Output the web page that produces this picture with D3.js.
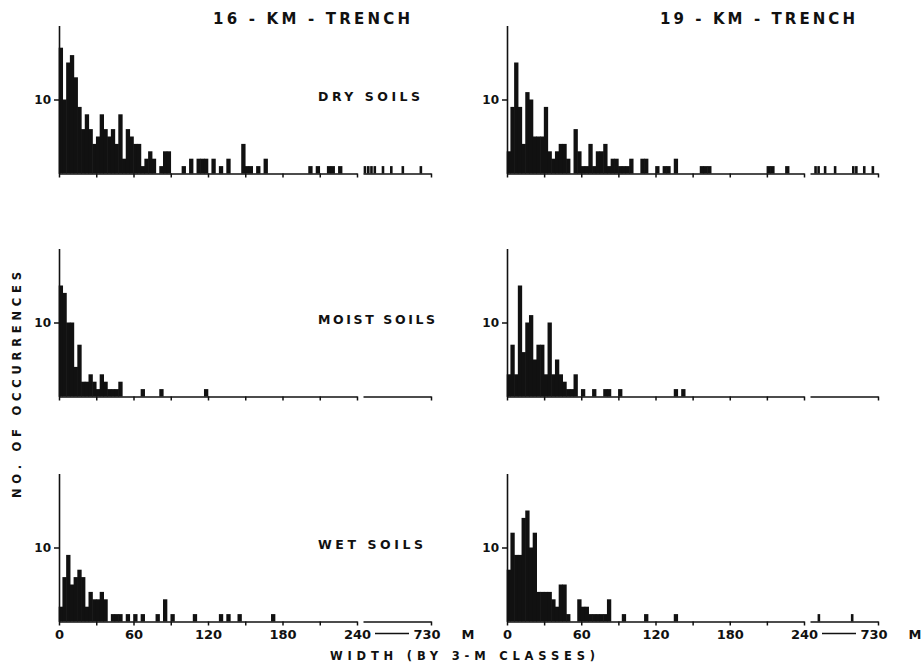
<!DOCTYPE html>
<html>
<head>
<meta charset="utf-8">
<script src="https://cdn.jsdelivr.net/npm/d3@7"></script>
<style>
  body { margin: 0; background: #fff; }
  svg { display: block; }
  text { font-family: "DejaVu Sans", sans-serif; font-weight: bold; fill: #111; }
</style>
</head>
<body>
<div class="container"></div>
<script>
// counts per 3-m width class, starting at 0 m
const classSize = 3;
const dry16 = [17,10,15,16,13,9,6,8,6,4, 5,8,6,5,6,4,8,2,6,5, 4,4,1,2,3,2,0,1,3,3,
  0,0,0,1,0,2,0,2,2,2, 0,2,0,1,0,2,0,0,0,4, 1,1,0,1,0,2,0,0,0,0, 0,0,0,0,0,0,0,1,0,1, 0,0,1,1,0,1];
const dry19 = [3,9,15,9,4,11,10,5,5,5, 9,3,2,3,4,4,2,0,6,3, 1,1,4,1,3,3,4,1,2,2,
  1,1,1,2,0,0,2,2,0,0, 1,0,1,1,0,2,0,0,0,0, 0,0,1,1,1,0,0,0,0,0, 0,0,0,0,0,0,0,0,0,0, 1,1,0,0,0,1];
const moist16 = [15,14,10,10,4,7,2,2,3,2, 1,3,2,1,1,1,2,0,0,0, 0,0,1,0,0,0,0,1,0,0,
  0,0,0,0,0,0,0,0,0,1];
const moist19 = [3,7,3,15,6,10,11,5,7,7, 3,10,3,5,3,2,1,1,3,0, 1,0,0,1,0,0,1,1,0,0,
  1,0,0,0,0,0,0,0,0,0, 0,0,0,0,0,1,0,1];
const wet16 = [2,6,9,5,6,7,6,2,4,3, 3,4,3,0,1,1,1,0,1,0, 1,0,1,0,0,0,1,0,3,0,
  1,0,0,0,0,0,1,0,0,0, 0,0,0,1,0,1,0,0,1,0, 0,0,0,0,0,0,0,1];
const wet19 = [7,12,9,9,14,15,10,12,4,4, 4,4,3,2,5,5,1,0,0,3, 2,2,1,1,1,1,1,3,0,0,
  0,1,0,0,0,0,0,1,0,0, 0,0,0,0,0,1];

// single occurrences in the compressed 240-730 m section (width in m)
const dry16Tail = [254, 278, 301, 325, 384, 444, 527, 657];
const dry19Tail = [280, 302, 349, 421, 552, 574, 631, 693];
const moist16Tail = [];
const moist19Tail = [];
const wet16Tail = [];
const wet19Tail = [304, 544];

const xTicks = [0, 30, 60, 90, 120, 150, 180, 210, 240];
const xLabels = [0, 60, 120, 180, 240];
const yTicks = [10];
const trenches = ["16 - KM - TRENCH", "19 - KM - TRENCH"];
const soils = ["DRY  SOILS", "MOIST  SOILS", "WET  SOILS"];

const width = 923, height = 663;
const colX = [59, 507];        // x of 0 m
const colW = [298, 297];       // 0..240 m
const rowBase = [173.5, 396.5, 621.5];
const panelH = 148;
const ink = "#111";

const panels = [
  { counts: dry16, tail: dry16Tail, col: 0, row: 0 },
  { counts: dry19, tail: dry19Tail, col: 1, row: 0 },
  { counts: moist16, tail: moist16Tail, col: 0, row: 1 },
  { counts: moist19, tail: moist19Tail, col: 1, row: 1 },
  { counts: wet16, tail: wet16Tail, col: 0, row: 2 },
  { counts: wet19, tail: wet19Tail, col: 1, row: 2 }
];

const svg = d3.select(".container").append("svg")
  .attr("width", width)
  .attr("height", height);

panels.forEach(p => {
  const x0 = colX[p.col], base = rowBase[p.row];
  const x = d3.scaleLinear().domain([0, 240]).range([x0, x0 + colW[p.col]]);
  const xt = d3.scaleLinear().domain([240, 730]).range([x(240) + 6, x(240) + 74]);
  const y = d3.scaleLinear().domain([0, 20]).range([base, base - panelH]);
  const bottom = p.row === 2;

  const g = svg.append("g");

  // bars (slight overlap so neighbouring classes print as one solid mass)
  const bw = x(classSize) - x(0);
  g.append("g").selectAll("rect")
    .data(p.counts.map((c, i) => ({ c, i })).filter(d => d.c > 0))
    .join("rect")
    .attr("x", d => x(d.i * classSize) - 0.3)
    .attr("width", bw + 0.6)
    .attr("y", d => y(d.c))
    .attr("height", d => y(0) - y(d.c))
    .attr("fill", ink);

  g.append("g").selectAll("rect")
    .data(p.tail)
    .join("rect")
    .attr("x", d => xt(d) - 1.3)
    .attr("width", 2.6)
    .attr("y", y(1))
    .attr("height", y(0) - y(1))
    .attr("fill", ink);

  // x axis, main part
  const ax = g.append("g")
    .attr("transform", `translate(0,${base})`)
    .call(d3.axisBottom(x).tickValues(xTicks).tickSize(4).tickSizeOuter(0)
      .tickPadding(4)
      .tickFormat(d => bottom && xLabels.includes(d) ? d : ""));

  // x axis, compressed part
  const axt = g.append("g")
    .attr("transform", `translate(0,${base})`)
    .call(d3.axisBottom(xt).tickValues([730]).tickSize(4).tickSizeOuter(0).tickFormat(""));

  // y axis
  const ay = g.append("g")
    .attr("transform", `translate(${x0},0)`)
    .call(d3.axisLeft(y).tickValues(yTicks).tickSize(5).tickSizeOuter(0).tickPadding(3));

  [ax, axt, ay].forEach(a => {
    a.selectAll("path.domain").attr("stroke", ink).attr("stroke-width", 1.6);
    a.selectAll(".tick line").attr("stroke", ink).attr("stroke-width", 1.5);
    a.selectAll("text").attr("font-size", 13).attr("font-family", null).style("fill", ink);
  });
  ay.selectAll("text").attr("font-size", 12);

  if (bottom) {
    const ly = base + 17;
    g.append("line")
      .attr("x1", x(240) + 18).attr("x2", xt(730) - 22)
      .attr("y1", ly - 5).attr("y2", ly - 5)
      .attr("stroke", ink).attr("stroke-width", 1.5);
    g.append("text")
      .attr("x", xt(730) - 4).attr("y", ly)
      .attr("text-anchor", "middle")
      .attr("font-size", 13)
      .text("730");
    g.append("text")
      .attr("x", xt(730) + 37).attr("y", ly)
      .attr("text-anchor", "middle")
      .attr("font-size", 13)
      .text("M");
  }

  if (p.col === 0) {
    const lens = [102, 117, 105];
    svg.append("text")
      .attr("x", 318).attr("y", base - 73)
      .attr("font-size", 12.5)
      .attr("textLength", lens[p.row])
      .attr("lengthAdjust", "spacing")
      .text(soils[p.row]);
  }
});

// column titles
const titleX = [213, 660], titleLen = [197, 195];
trenches.forEach((t, i) => {
  svg.append("text")
    .attr("x", titleX[i]).attr("y", 23.5)
    .attr("font-size", 15)
    .attr("textLength", titleLen[i])
    .attr("lengthAdjust", "spacing")
    .text(t);
});

// axis titles
svg.append("text")
  .attr("x", 330).attr("y", 659.5)
  .attr("font-size", 11.5)
  .attr("textLength", 265)
  .attr("lengthAdjust", "spacing")
  .text("WIDTH  (BY 3-M CLASSES)");

svg.append("text")
  .attr("transform", "translate(21,498) rotate(-90)")
  .attr("font-size", 11.5)
  .attr("textLength", 226)
  .attr("lengthAdjust", "spacing")
  .text("NO.  OF  OCCURRENCES");
</script>
</body>
</html>
